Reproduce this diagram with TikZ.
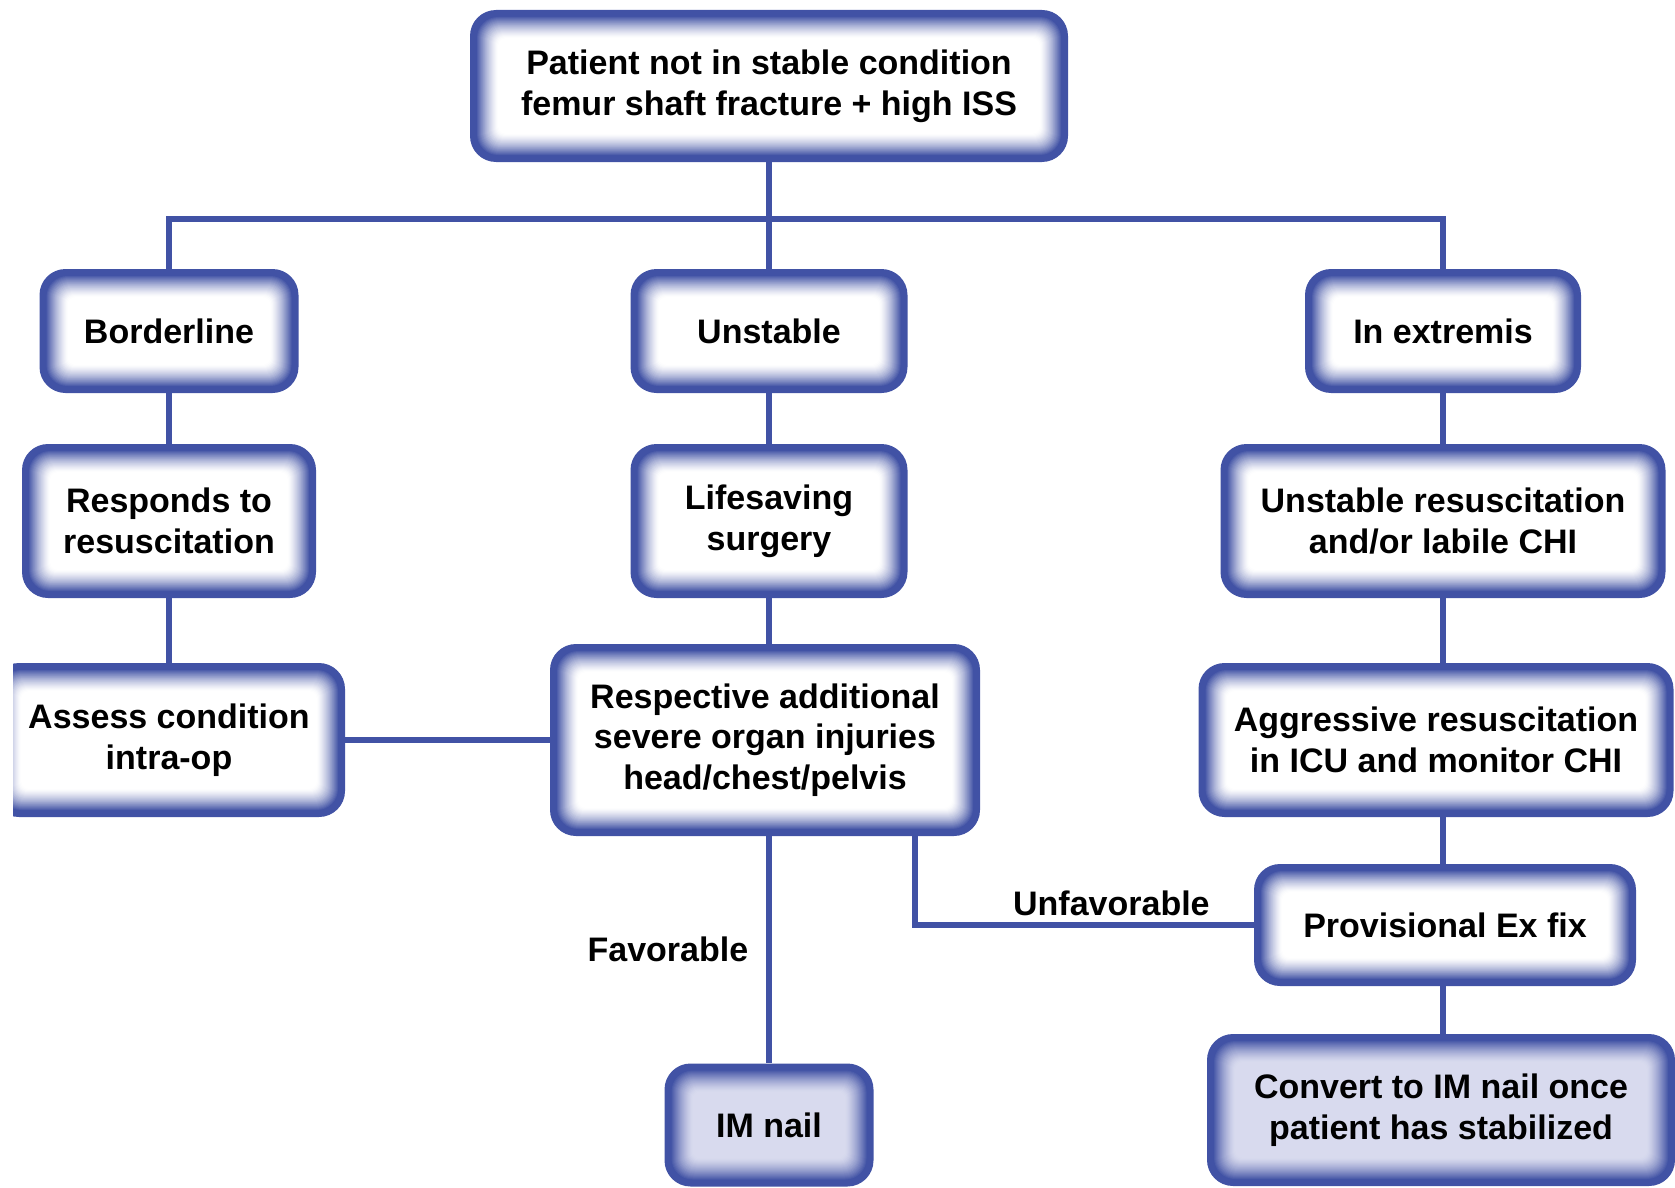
\documentclass[tikz,border=0pt]{standalone}
\usepackage{fontspec}
\setmainfont{Liberation Sans}
\usepackage{xcolor}
\usepackage{tikz}
\usetikzlibrary{positioning,calc}
\definecolor{flowblue}{HTML}{4152A5}
\definecolor{endfill}{HTML}{D8DAEE}

\tikzset{
  glowbox/.style={rounded corners=13pt, fill=flowblue, align=center, inner sep=0pt,
    font=\fontsize{17}{20.3}\selectfont\bfseries,
    path picture={
      \foreach \k [evaluate=\k as \p using {int(max(0,min(100,100*((28-\k)/22)^1.4)))},
                   evaluate=\k as \r using {max(4,13-\k*0.35)}] in {1,...,28}
        \fill[flowblue!\p!#1, rounded corners=\r pt]
          ([shift={(\k*0.5pt,\k*0.5pt)}]path picture bounding box.south west) rectangle
          ([shift={(-\k*0.5pt,-\k*0.5pt)}]path picture bounding box.north east);
    }},
  glowbox/.default=white,
}

\begin{document}
\begin{tikzpicture}[
  x=0.5pt, y=-0.5pt,
  link/.style={draw=flowblue, line width=2.8pt},
  lbl/.style={font=\fontsize{17}{20.3}\selectfont\bfseries, inner sep=0pt}
]
\useasboundingbox (0,0) rectangle (1675,1188);

% top and three branches
\node[glowbox, minimum width=299pt, minimum height=76pt] (patient) at (769,86)
  {Patient not in stable condition\\femur shaft fracture + high ISS};
\node[glowbox, minimum width=129.5pt, minimum height=62pt] (border) at (169,331) {Borderline};
\node[glowbox, minimum width=138.5pt, minimum height=62pt] (unstable) at (769,331) {Unstable};
\node[glowbox, minimum width=138pt, minimum height=62pt] (extremis) at (1443,331) {In extremis};

% second row
\node[glowbox, minimum width=147pt, minimum height=77pt] (responds) at (169,521) {Responds to\\resuscitation};
\node[glowbox, minimum width=138.5pt, minimum height=77pt] (lifesave) at (769,521) {Lifesaving\\surgery};
\node[glowbox, minimum width=222.5pt, minimum height=77pt] (unstres) at (1443,521) {Unstable resuscitation\\and/or labile CHI};

% third row
\begin{scope}
  \clip (13,0) rectangle (1675,1188);
  \node[glowbox, minimum width=176pt, minimum height=77pt] (assess) at (169,740) {Assess condition\\intra-op};
\end{scope}
\node[glowbox, minimum width=215pt, minimum height=96pt] (organ) at (765,740)
  {Respective additional\\severe organ injuries\\head/chest/pelvis};
\node[glowbox, minimum width=237.5pt, minimum height=77pt] (icu) at (1436,740)
  {Aggressive resuscitation\\in ICU and monitor CHI};

% bottom
\node[glowbox, minimum width=191pt, minimum height=61pt] (exfix) at (1445,925) {Provisional Ex fix};
\node[glowbox=endfill, minimum width=234pt, minimum height=76pt] (convert) at (1441,1110)
  {Convert to IM nail once\\patient has stabilized};
\node[glowbox=endfill, minimum width=104.5pt, minimum height=61.5pt] (imnail) at (769,1125) {IM nail};

\coordinate (bus) at (769,219);

\draw[link] (patient.south) -- (unstable.north);
\draw[link] (border.north) |- (bus) -| (extremis.north);
\draw[link] (border) -- (responds);
\draw[link] (responds) -- (responds |- assess.north);
\draw[link] (unstable) -- (lifesave);
\draw[link] (lifesave.south) -- (lifesave.south |- organ.north);
\draw[link] (assess.east) -- (assess.east -| organ.west);
\draw[link] (extremis) -- (unstres);
\draw[link] (unstres.south) -- (unstres.south |- icu.north);
\draw[link] (unstres.south |- icu.south) -- (unstres.south |- exfix.north);
\draw[link] (unstres.south |- exfix.south) -- (unstres.south |- convert.north);
\draw[link] (imnail.north |- organ.south) -- node[lbl, left=9pt] {Favorable} (imnail.north);
\draw[link] ([xshift=75pt]organ.south) |- node[lbl, pos=0.79, above=3pt] {Unfavorable} (exfix.west);
\end{tikzpicture}
\end{document}
